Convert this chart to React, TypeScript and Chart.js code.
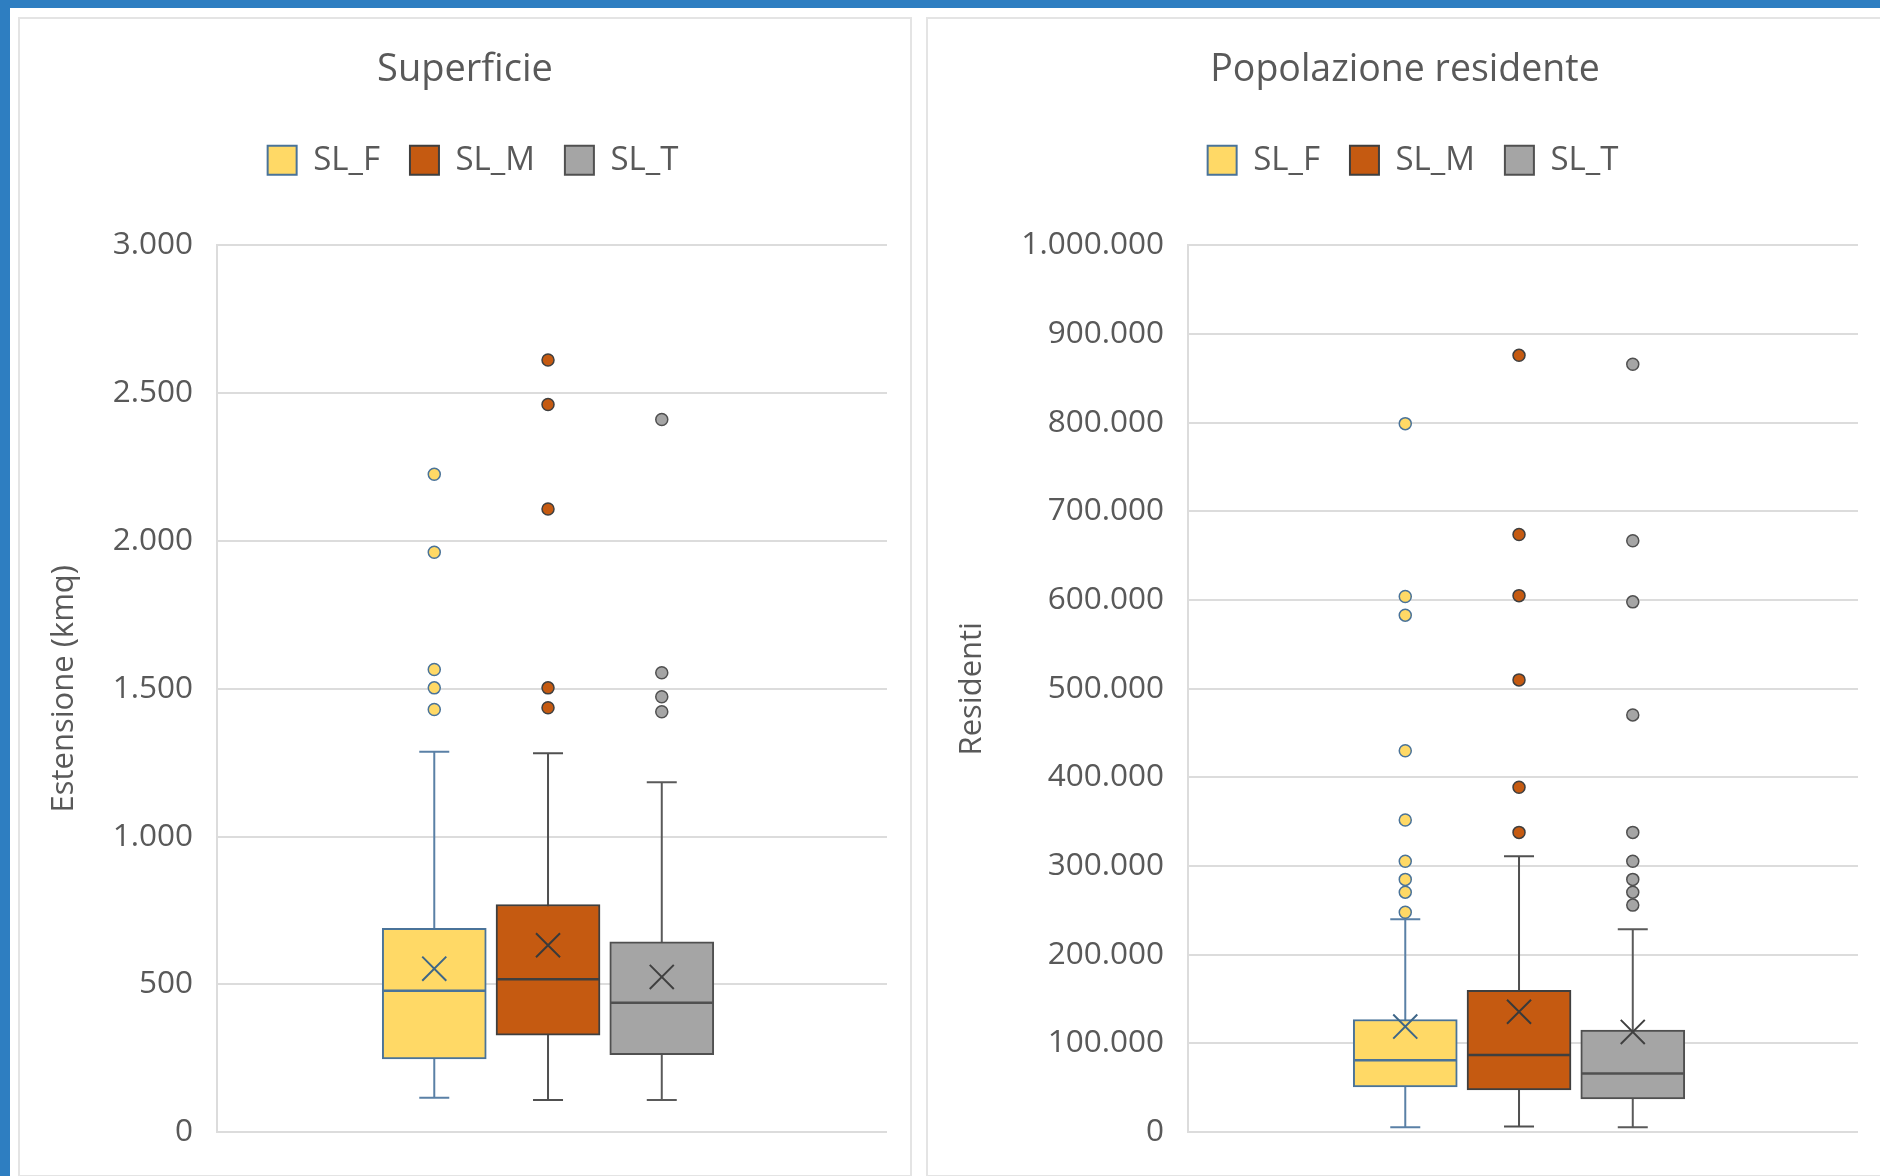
import React, { useEffect, useRef } from 'react';
import { Chart, registerables } from 'chart.js';

Chart.register(...registerables);

// ---------- data ----------
const SERIES = ['SL_F', 'SL_M', 'SL_T'];

// Superficie (kmq)
const areaMin = [116, 109, 109];
const areaQ1 = [248, 328, 262];
const areaMedian = [478, 517, 438];
const areaQ3 = [689, 770, 644];
const areaMax = [1287, 1282, 1184];
const areaMean = [553, 632, 525];
const areaOutF = [1430, 1503, 1565, 1962, 2226];
const areaOutM = [1436, 1503, 2108, 2462, 2612];
const areaOutT = [1422, 1473, 1554, 2411];

// Popolazione residente
const popMin = [5600, 6300, 5600];
const popQ1 = [51000, 47600, 37500];
const popMedian = [81000, 87000, 66000];
const popQ3 = [127000, 160000, 115000];
const popMax = [240000, 311000, 228700];
const popMean = [119000, 135700, 113000];
const popOutF = [248000, 270600, 285000, 305500, 352000, 430000, 583000, 604000, 799000];
const popOutM = [338000, 389000, 510000, 605000, 674000, 876000];
const popOutT = [256000, 270600, 285000, 305500, 338000, 470500, 598000, 667000, 866000];

// ---------- styles ----------
const FONT = "'Open Sans', 'Noto Sans', sans-serif";
const TEXT = '#595959';
const GRID = '#DCDCDC';
const BLUE = '#2E7EC1';
const FILL = ['#FFD966', '#C55A11', '#A5A5A5'];
const STROKE = ['#4A7399', '#3F3F3F', '#505050'];
const WHISK = ['#5A80A6', '#505050', '#5A5A5A'];
const MEANC = ['#3E6688', '#3A3A3A', '#404040'];

const fmt = (v: number) => String(v).replace(/\B(?=(\d{3})+(?!\d))/g, '.');

type PanelSpec = {
  title: string;
  titleSize: number;
  axisTitle: string;
  yMax: number;
  step: number;
  mins: number[];
  q1: number[];
  med: number[];
  q3: number[];
  maxs: number[];
  means: number[];
  outs: number[][];
  width: number;
  height: number;
  padSide: number;
  yWidth: number;
  yTitlePad: number;
};

const legendShift = {
  id: 'legendShift',
  afterLayout(chart: any) {
    const lg = chart.legend;
    if (lg) {
      lg.left += 8;
      lg.right += 8;
    }
  },
};

function buildConfig(p: PanelSpec): any {
  const datasets: any[] = [];
  SERIES.forEach((name, i) => {
    datasets.push({
      type: 'line',
      label: name + ' whisker',
      data: [{ x: i, y: p.mins[i] }, { x: i, y: p.maxs[i] }],
      borderColor: WHISK[i],
      borderWidth: 2,
      pointRadius: 0,
      order: 10,
    });
    datasets.push({
      type: 'line',
      label: name + ' caps',
      showLine: false,
      data: [{ x: i, y: p.mins[i] }, { x: i, y: p.maxs[i] }],
      pointStyle: 'line',
      pointRadius: 15,
      borderColor: WHISK[i],
      pointBorderColor: WHISK[i],
      borderWidth: 2,
      pointBorderWidth: 2,
      order: 9,
    });
    datasets.push({
      type: 'bar',
      label: name,
      data: [{ x: i, y: [p.q1[i], p.q3[i]] }],
      backgroundColor: FILL[i],
      borderColor: STROKE[i],
      borderWidth: 2,
      borderSkipped: false,
      barThickness: 104,
      grouped: false,
      order: 8,
    });
    datasets.push({
      type: 'line',
      label: name + ' median',
      showLine: false,
      data: [{ x: i, y: p.med[i] }],
      pointStyle: 'line',
      pointRadius: 51,
      borderColor: STROKE[i],
      pointBorderColor: STROKE[i],
      borderWidth: 2.5,
      pointBorderWidth: 2.5,
      order: 7,
    });
    datasets.push({
      type: 'line',
      label: name + ' mean',
      showLine: false,
      data: [{ x: i, y: p.means[i] }],
      pointStyle: 'crossRot',
      pointRadius: 17,
      borderColor: MEANC[i],
      pointBorderColor: MEANC[i],
      borderWidth: 2,
      pointBorderWidth: 2,
      order: 6,
    });
    datasets.push({
      type: 'line',
      label: name + ' outliers',
      showLine: false,
      data: p.outs[i].map((v) => ({ x: i, y: v })),
      pointStyle: 'circle',
      pointRadius: 6,
      backgroundColor: FILL[i],
      pointBackgroundColor: FILL[i],
      borderColor: STROKE[i],
      pointBorderColor: STROKE[i],
      borderWidth: 1.5,
      pointBorderWidth: 1.5,
      order: 5,
    });
  });

  const titleLH = p.titleSize * 1.2;
  const titleTop = 51 - titleLH / 2;

  return {
    type: 'bar',
    data: { datasets },
    plugins: [legendShift],
    options: {
      animation: false,
      responsive: false,
      maintainAspectRatio: false,
      devicePixelRatio: 1,
      events: [],
      layout: {
        autoPadding: false,
        padding: { left: p.padSide, right: p.padSide, top: 0, bottom: 40.6 },
      },
      plugins: {
        tooltip: { enabled: false },
        title: {
          display: true,
          text: p.title,
          color: TEXT,
          font: { family: FONT, size: p.titleSize, weight: 'normal', lineHeight: 1.2 },
          padding: { top: titleTop, bottom: 94.8 - titleTop - titleLH },
        },
        subtitle: {
          display: true,
          text: '',
          weight: 500,
          font: { family: FONT, size: 10, lineHeight: 1 },
          padding: { top: 0, bottom: 48.6 },
        },
        legend: {
          display: true,
          position: 'top',
          align: 'center',
          labels: {
            boxWidth: 29,
            boxHeight: 29,
            padding: 30,
            color: TEXT,
            font: { family: FONT, size: 33 },
            generateLabels: () =>
              SERIES.map((name, i) => ({
                text: name,
                fillStyle: FILL[i],
                strokeStyle: STROKE[i],
                lineWidth: 2,
                hidden: false,
                datasetIndex: i * 6 + 2,
                fontColor: TEXT,
              })),
          },
        },
      },
      scales: {
        x: {
          type: 'linear',
          display: false,
          offset: false,
          min: -1.91,
          max: 3.98,
        },
        y: {
          type: 'linear',
          min: 0,
          max: p.yMax,
          afterFit: (scale: any) => {
            scale.width = p.yWidth;
          },
          ticks: {
            stepSize: p.step,
            padding: 24,
            color: TEXT,
            font: { family: FONT, size: 31.5 },
            callback: (v: any) => fmt(Number(v)),
          },
          grid: { color: GRID, lineWidth: 2, drawTicks: false },
          border: { display: true, color: GRID, width: 2 },
          title: {
            display: true,
            text: p.axisTitle,
            color: TEXT,
            font: { family: FONT, size: 31, lineHeight: 1.2 },
            padding: { top: p.yTitlePad, bottom: 0 },
          },
        },
      },
    },
  };
}

function Panel(props: { spec: PanelSpec; left: number; top: number; w: number; h: number }) {
  const ref = useRef<HTMLCanvasElement | null>(null);
  useEffect(() => {
    if (!ref.current) return;
    const chart = new Chart(ref.current, buildConfig(props.spec));
    return () => chart.destroy();
  }, []);
  return (
    <div
      style={{
        position: 'absolute',
        left: props.left,
        top: props.top,
        width: props.w,
        height: props.h,
        border: '2px solid #E4E4E4',
        boxSizing: 'border-box',
        background: '#fff',
      }}
    >
      <canvas
        ref={ref}
        width={props.spec.width}
        height={props.spec.height}
        style={{ display: 'block', width: props.spec.width, height: props.spec.height }}
      />
    </div>
  );
}

export default function App() {
  const areaSpec: PanelSpec = {
    title: 'Superficie',
    titleSize: 38,
    axisTitle: 'Estensione (kmq)',
    yMax: 3000,
    step: 500,
    mins: areaMin,
    q1: areaQ1,
    med: areaMedian,
    q3: areaQ3,
    maxs: areaMax,
    means: areaMean,
    outs: [areaOutF, areaOutM, areaOutT],
    width: 890,
    height: 1156,
    padSide: 23,
    yWidth: 174,
    yTitlePad: 2.8,
  };
  const popSpec: PanelSpec = {
    title: 'Popolazione residente',
    titleSize: 37.5,
    axisTitle: 'Residenti',
    yMax: 1000000,
    step: 100000,
    mins: popMin,
    q1: popQ1,
    med: popMedian,
    q3: popQ3,
    maxs: popMax,
    means: popMean,
    outs: [popOutF, popOutM, popOutT],
    width: 954,
    height: 1156,
    padSide: 24,
    yWidth: 236,
    yTitlePad: 1.2,
  };
  return (
    <div
      style={{
        position: 'fixed',
        left: 0,
        top: 0,
        width: 1880,
        height: 1176,
        background: '#fff',
        overflow: 'hidden',
      }}
    >
      <div style={{ position: 'absolute', left: 0, top: 0, width: 1880, height: 8, background: BLUE }} />
      <div style={{ position: 'absolute', left: 0, top: 0, width: 10, height: 1176, background: BLUE }} />
      <Panel spec={areaSpec} left={18} top={17} w={894} h={1160} />
      <Panel spec={popSpec} left={926} top={17} w={958} h={1160} />
    </div>
  );
}
